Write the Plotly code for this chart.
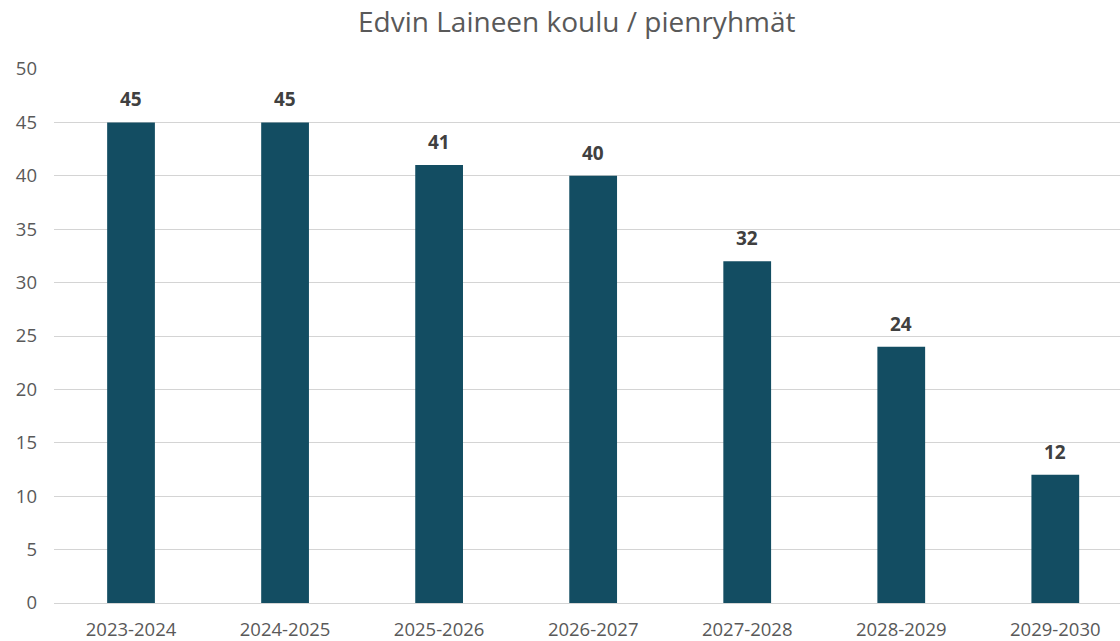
import plotly.graph_objects as go

categories = ["2023-2024", "2024-2025", "2025-2026", "2026-2027", "2027-2028", "2028-2029", "2029-2030"]
values = [45, 45, 41, 40, 32, 24, 12]
y_ticks = [0, 5, 10, 15, 20, 25, 30, 35, 40, 45, 50]

fig = go.Figure(go.Bar(
    x=categories, y=values, width=0.31,
    marker=dict(color="#134d62", line=dict(width=0)),
    hoverinfo="x+y",
))

for c, v in zip(categories, values):
    fig.add_annotation(x=c, y=v, text=str(v), showarrow=False, yanchor="bottom", yshift=8,
                       font=dict(family="Open Sans", size=19, color="#404040", weight="bold"))

fig.update_layout(
    width=1120, height=641,
    margin=dict(l=54, r=0, t=69, b=38),
    paper_bgcolor="white", plot_bgcolor="white",
    title=dict(text="Edvin Laineen koulu / pienryhmät", x=0.515, xanchor="center", y=0.965, yanchor="middle",
               font=dict(family="Open Sans", size=28, color="#595959")),
    font=dict(family="Open Sans", color="#595959"),
    showlegend=False,
)
fig.update_xaxes(range=[-0.5, 6.42], showgrid=False, showline=False, zeroline=False,
                 tickfont=dict(size=18.5, color="#595959"), ticks="", ticklabelstandoff=13)
fig.update_yaxes(range=[0, 50], tickvals=y_ticks, showgrid=True, gridcolor="#d4d4d4", gridwidth=1,
                 zeroline=True, zerolinecolor="#d4d4d4", zerolinewidth=1, showline=False,
                 tickfont=dict(size=18.5, color="#595959"), ticks="", ticklabelstandoff=16)

fig.write_html("out.html", config={"displayModeBar": False},
               post_script="document.body.style.margin='0';document.body.style.overflow='hidden';")
